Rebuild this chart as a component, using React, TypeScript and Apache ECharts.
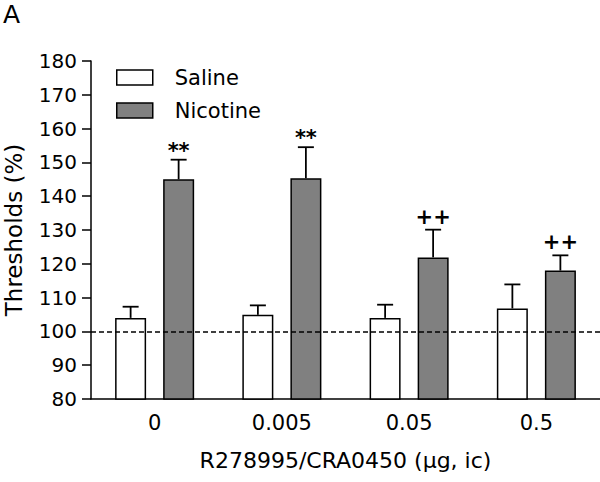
import React, { useEffect, useRef } from "react";
import * as echarts from "echarts";

const categories = ["0", "0.005", "0.05", "0.5"];
const salineMean = [104.0, 104.9, 104.0, 106.8];
const salineErr = [3.3, 2.8, 3.9, 7.1];
const nicotineMean = [145.0, 145.3, 121.9, 118.0];
const nicotineErr = [5.8, 9.2, 8.2, 4.5];
const nicotineMarks = ["**", "**", "++", "++"];
const yMin = 80;
const yMax = 180;
const yStep = 10;
const baseline = 100;

const FONT = "DejaVu Sans";

function errRender(offset: number, marks: string[] | null) {
  return (params: any, api: any) => {
    const idx = api.value(0);
    const mean = api.value(1);
    const top = api.value(2);
    const p0 = api.coord([idx, mean]);
    const p1 = api.coord([idx, top]);
    const x = p0[0] + offset;
    const style = { stroke: "#000", lineWidth: 1.8 };
    const children: any[] = [
      { type: "line", shape: { x1: x, y1: p0[1], x2: x, y2: p1[1] }, style },
      { type: "line", shape: { x1: x - 8, y1: p1[1], x2: x + 8, y2: p1[1] }, style },
    ];
    if (marks && marks[params.dataIndex]) {
      const m = marks[params.dataIndex];
      children.push({
        type: "text",
        x,
        y: p1[1] - (m === "**" ? 9 : 13),
        style: {
          text: m,
          fontFamily: FONT,
          fontSize: 21,
          fontWeight: "bold",
          fill: "#000",
          align: "center",
          verticalAlign: "middle",
        },
      });
    }
    return { type: "group", children };
  };
}

export default function App() {
  const ref = useRef<HTMLDivElement>(null);
  useEffect(() => {
    const chart = echarts.init(ref.current!, null, { renderer: "svg" });
    chart.setOption({
      animation: false,
      textStyle: { fontFamily: FONT, color: "#000" },
      grid: { left: 91, right: 0, top: 61, bottom: 83, containLabel: false, outerBoundsMode: "none" },
      legend: {
        orient: "vertical",
        left: 111,
        top: 62,
        padding: 5,
        icon: "rect",
        itemWidth: 36,
        itemHeight: 15,
        itemGap: 12,
        textStyle: { fontFamily: FONT, fontSize: 21, color: "#000", lineHeight: 16, padding: [0, 0, 0, 17] },
        data: [
          { name: "Saline", itemStyle: { color: "#fff", borderColor: "#000", borderWidth: 1.5 } },
          { name: "Nicotine", itemStyle: { color: "#808080", borderColor: "#000", borderWidth: 1.5 } },
        ],
      },
      graphic: [
        {
          type: "text",
          x: 3,
          y: 2,
          style: { text: "A", fontFamily: FONT, fontSize: 25, fill: "#000", align: "left", verticalAlign: "top" },
        },
      ],
      xAxis: {
        type: "category",
        data: categories,
        name: "R278995/CRA0450 (μg, ic)",
        nameLocation: "middle",
        nameGap: 50,
        nameTextStyle: { fontFamily: FONT, fontSize: 22, color: "#000" },
        axisLine: { lineStyle: { color: "#000", width: 1.5 } },
        axisTick: { alignWithLabel: true, length: 7, lineStyle: { color: "#000", width: 1.5 } },
        axisLabel: { fontFamily: FONT, fontSize: 21, color: "#000", margin: 13 },
      },
      yAxis: {
        type: "value",
        min: yMin,
        max: yMax,
        interval: yStep,
        name: "Thresholds (%)",
        nameLocation: "middle",
        nameGap: 66,
        nameTextStyle: { fontFamily: FONT, fontSize: 23, color: "#000" },
        axisLine: { show: true, lineStyle: { color: "#000", width: 1.5 } },
        axisTick: { show: true, length: 9, lineStyle: { color: "#000", width: 1.5 } },
        axisLabel: { fontFamily: FONT, fontSize: 20, color: "#000", margin: 14 },
        splitLine: { show: false },
      },
      series: [
        {
          name: "Saline",
          type: "bar",
          data: salineMean,
          barWidth: 31,
          barGap: "55%",
          itemStyle: { color: "#fff", borderColor: "#000", borderWidth: 1.5 },
        },
        {
          name: "Nicotine",
          type: "bar",
          data: nicotineMean,
          barWidth: 31,
          barGap: "55%",
          itemStyle: { color: "#808080", borderColor: "#000", borderWidth: 1.5 },
          markLine: {
            silent: true,
            symbol: "none",
            label: { show: false },
            lineStyle: { color: "#000", width: 1.5, type: [5, 3] },
            data: [{ yAxis: baseline }],
          },
        },
        {
          name: "SalineErr",
          type: "custom",
          z: 5,
          renderItem: errRender(-24, null),
          data: salineMean.map((m, i) => [i, m, m + salineErr[i]]),
        },
        {
          name: "NicotineErr",
          type: "custom",
          z: 5,
          renderItem: errRender(24, nicotineMarks),
          data: nicotineMean.map((m, i) => [i, m, m + nicotineErr[i]]),
        },
      ],
    });
    return () => chart.dispose();
  }, []);
  return (
    <div
      ref={ref}
      style={{ position: "absolute", left: 0, top: 0, width: 600, height: 482 }}
    />
  );
}
